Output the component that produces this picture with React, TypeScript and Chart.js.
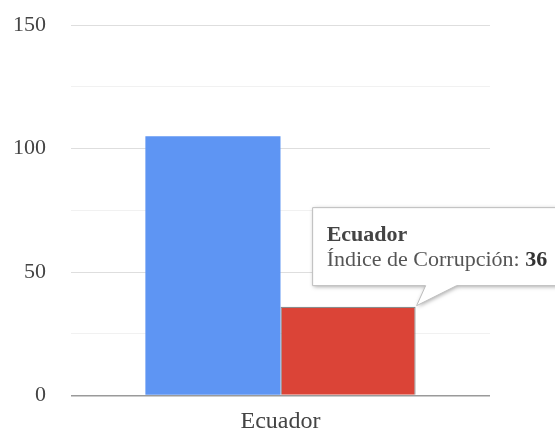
import React, { useEffect, useRef } from "react";
import { Chart, registerables } from "chart.js";

Chart.register(...registerables);

const categories = ["Ecuador"];
const seriesNames = ["Posición", "Índice de Corrupción"];
const positionValues = [105];
const corruptionValues = [36];
const yTickLabels = [0, 50, 100, 150];

const FONT = "'Liberation Serif', 'Times New Roman', serif";

const tooltipPlugin = {
  id: "fakeTooltip",
  afterDraw(chart: any) {
    const meta = chart.getDatasetMeta(1);
    const el = meta.data[0];
    if (!el) return;
    const p = el.getProps(["x", "y", "width"], true);
    const right = p.x + p.width / 2;
    const barTop = p.y;
    const ctx = chart.ctx;
    const left = right - 103;
    const bottom = barTop - 21;
    const top = bottom - 78;
    const boxRight = left + 250;
    ctx.save();
    ctx.beginPath();
    ctx.moveTo(left, top);
    ctx.lineTo(boxRight, top);
    ctx.lineTo(boxRight, bottom);
    ctx.lineTo(right + 41, bottom);
    ctx.lineTo(right + 1, barTop - 1);
    ctx.lineTo(right + 10, bottom);
    ctx.lineTo(left, bottom);
    ctx.closePath();
    ctx.shadowColor = "rgba(0,0,0,0.35)";
    ctx.shadowBlur = 4;
    ctx.shadowOffsetX = 1;
    ctx.shadowOffsetY = 1;
    ctx.fillStyle = "#ffffff";
    ctx.fill();
    ctx.shadowColor = "transparent";
    ctx.strokeStyle = "#bdbdbd";
    ctx.lineWidth = 1;
    ctx.stroke();

    const label = categories[0];
    const name = seriesNames[1] + ": ";
    const val = String(corruptionValues[0]);
    ctx.textBaseline = "alphabetic";
    ctx.textAlign = "left";
    ctx.fillStyle = "#444";
    ctx.font = `bold 22px ${FONT}`;
    ctx.fillText(label, left + 14, top + 33);
    ctx.font = `22px ${FONT}`;
    ctx.fillStyle = "#555";
    ctx.fillText(name, left + 14, top + 58);
    const w = ctx.measureText(name).width;
    ctx.font = `bold 22px ${FONT}`;
    ctx.fillStyle = "#333";
    ctx.fillText(val, left + 14 + w, top + 58);
    ctx.restore();
  },
};

export default function App() {
  const ref = useRef<HTMLCanvasElement | null>(null);
  useEffect(() => {
    if (!ref.current) return;
    const chart = new Chart(ref.current, {
      type: "bar",
      data: {
        labels: categories,
        datasets: [
          {
            label: seriesNames[0],
            data: positionValues,
            backgroundColor: "#5e95f3",
            borderWidth: 0,
          },
          {
            label: seriesNames[1],
            data: corruptionValues,
            backgroundColor: "#db4437",
            borderColor: "rgba(100,100,100,0.75)",
            borderWidth: 1.3,
          },
        ],
      },
      options: {
        animation: false,
        responsive: false,
        maintainAspectRatio: false,
        devicePixelRatio: 1,
        layout: { padding: { top: 25.3, right: 65, left: 0, bottom: 0 } },
        datasets: { bar: { categoryPercentage: 0.645, barPercentage: 1.0 } },
        plugins: {
          legend: { display: false },
          tooltip: { enabled: false },
        },
        events: [],
        scales: {
          x: {
            grid: { display: false, drawTicks: false },
            border: { display: false },
            ticks: {
              color: "#444",
              font: { family: FONT, size: 24 },
              padding: 12,
            },
            afterFit(scale: any) {
              scale.height = 34.5;
              scale.paddingLeft = 0;
              scale.paddingRight = 0;
            },
          },
          y: {
            min: 0,
            max: 150,
            grid: {
              drawTicks: false,
              tickLength: 0,
              color: (c: any) => {
                const v = c.tick ? c.tick.value : 1;
                if (v === 0) return "#9a9a9a";
                return v % 50 === 0 ? "#dedede" : "#f1f1f1";
              },
              lineWidth: (c: any) => (c.tick && c.tick.value === 0 ? 1.5 : 1),
            },
            border: { display: false },
            ticks: {
              stepSize: 25,
              padding: 25,
              color: "#444",
              font: { family: FONT, size: 22 },
              callback: (v: any) => (yTickLabels.includes(Number(v)) ? String(v) : ""),
            },
            afterFit(scale: any) {
              scale.width = 71;
              scale.paddingTop = 0;
              scale.paddingBottom = 0;
            },
          },
        },
      },
      plugins: [tooltipPlugin],
    });
    return () => chart.destroy();
  }, []);
  return (
    <div style={{ position: "absolute", left: 0, top: 0, width: 555, height: 430 }}>
      <canvas ref={ref} width={555} height={430} style={{ width: 555, height: 430 }} />
    </div>
  );
}
